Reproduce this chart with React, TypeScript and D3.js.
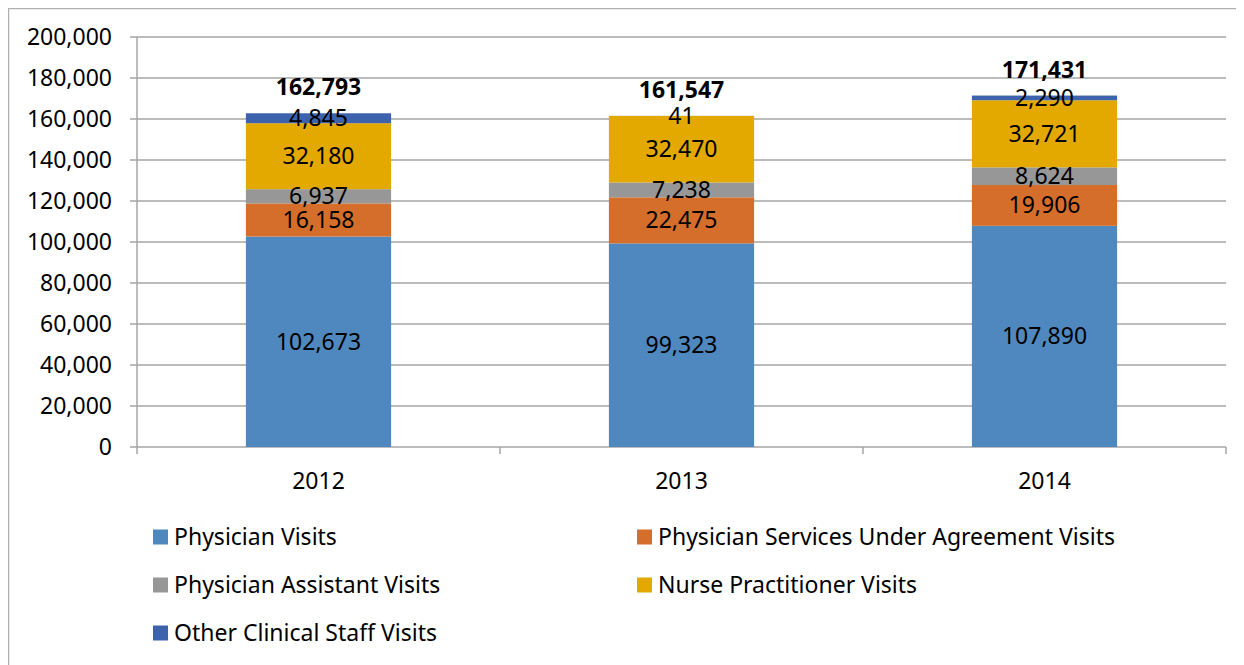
import React from "react";
import * as d3 from "d3";

const years = ["2012", "2013", "2014"];
const seriesNames = [
  "Physician Visits",
  "Physician Services Under Agreement Visits",
  "Physician Assistant Visits",
  "Nurse Practitioner Visits",
  "Other Clinical Staff Visits",
];
const seriesColors = ["#4F88BE", "#D56E2B", "#979797", "#E3A900", "#3E63AD"];
const physician = [102673, 99323, 107890];
const psa = [16158, 22475, 19906];
const assistant = [6937, 7238, 8624];
const nurse = [32180, 32470, 32721];
const other = [4845, 41, 2290];
const yTicks = [0, 20000, 40000, 60000, 80000, 100000, 120000, 140000, 160000, 180000, 200000];

const W = 1236;
const H = 657;
const FONT = "'Noto Sans', 'Open Sans', sans-serif";
const FS = 23;

export default function App() {
  const left = 129;
  const right = 1218;
  const top = 29;
  const bottom = 439;
  const x = d3.scaleBand<string>().domain(years).range([left, right]).padding(0);
  const y = d3.scaleLinear().domain([0, 200000]).range([bottom, top]);
  const values = [physician, psa, assistant, nurse, other];
  const rows = years.map((yr, i) => {
    const r: any = { year: yr };
    seriesNames.forEach((s, k) => (r[s] = values[k][i]));
    return r;
  });
  const stack = d3.stack<any>().keys(seriesNames)(rows);
  const barW = x.bandwidth() * 0.4;
  const fmt = d3.format(",");
  const totals = years.map((_, i) => values.reduce((a, v) => a + v[i], 0));

  const legendPos = [
    [145, 529],
    [629, 529],
    [145, 577],
    [629, 577],
    [145, 625],
  ];

  return (
    <svg width={W} height={H} style={{ display: "block" }} fontFamily={FONT}>
      <rect x={0} y={0} width={W} height={H} fill="#fff" />
      <line x1={0.5} y1={0} x2={0.5} y2={H} stroke="#b0b0b0" strokeWidth={1.5} />
      <line x1={0} y1={0.5} x2={W} y2={0.5} stroke="#b0b0b0" strokeWidth={1.5} />
      {yTicks.map((t) => (
        <g key={t}>
          <line x1={left - 7} x2={right} y1={y(t)} y2={y(t)} stroke="#a6a6a6" strokeWidth={1.5} />
          <text x={left - 25} y={y(t)} dy="0.35em" textAnchor="end" fontSize={FS} fill="#000">
            {fmt(t)}
          </text>
        </g>
      ))}
      <line x1={left} x2={left} y1={top} y2={bottom} stroke="#a6a6a6" strokeWidth={1.5} />
      {[...years.map((yr) => x(yr) as number), right].map((xv, i) => (
        <line key={i} x1={xv} x2={xv} y1={bottom} y2={bottom + 7} stroke="#a6a6a6" strokeWidth={1.5} />
      ))}
      {years.map((yr) => (
        <text key={yr} x={(x(yr) as number) + x.bandwidth() / 2} y={bottom + 34} dy="0.35em" textAnchor="middle" fontSize={FS}>
          {yr}
        </text>
      ))}
      {stack.map((layer, k) => (
        <g key={k}>
          {layer.map((d, i) => {
            const cx = (x(years[i]) as number) + x.bandwidth() / 2;
            return (
              <rect key={i} x={cx - barW / 2} width={barW} y={y(d[1])} height={y(d[0]) - y(d[1])} fill={seriesColors[k]} />
            );
          })}
        </g>
      ))}
      {stack.map((layer, k) => (
        <g key={"l" + k}>
          {layer.map((d, i) => {
            const cx = (x(years[i]) as number) + x.bandwidth() / 2;
            const cy = (y(d[0]) + y(d[1])) / 2;
            return (
              <text key={i} x={cx} y={cy} dy="0.35em" textAnchor="middle" fontSize={FS} fill="#000">
                {fmt(values[k][i])}
              </text>
            );
          })}
        </g>
      ))}
      {totals.map((t, i) => (
        <text key={i} x={(x(years[i]) as number) + x.bandwidth() / 2} y={y(t) - 26} dy="0.35em" textAnchor="middle" fontSize={FS} fontWeight="bold">
          {fmt(t)}
        </text>
      ))}
      {seriesNames.map((s, k) => (
        <g key={s} transform={`translate(${legendPos[k][0]},${legendPos[k][1]})`}>
          <rect x={0} y={-7.5} width={15} height={15} fill={seriesColors[k]} />
          <text x={21} y={0} dy="0.35em" fontSize={FS}>
            {s}
          </text>
        </g>
      ))}
    </svg>
  );
}
